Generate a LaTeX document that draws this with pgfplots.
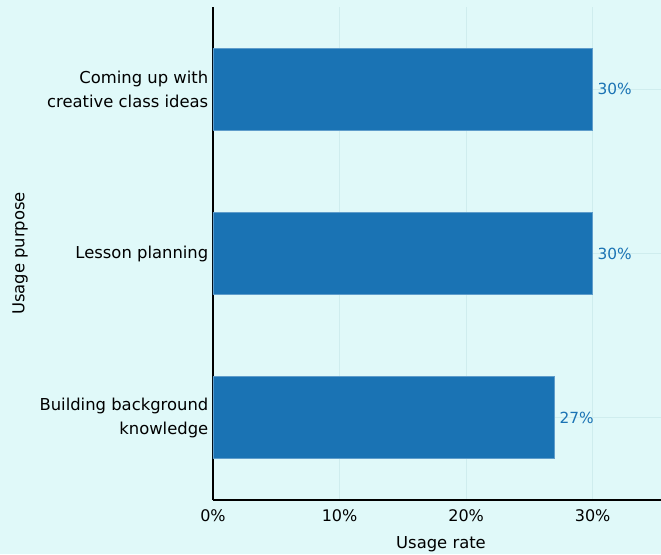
\documentclass[border=0pt]{standalone}
\usepackage{fontspec}
\setmainfont{DejaVu Sans}
\usepackage{pgfplots}
\pgfplotsset{compat=1.18}
\definecolor{bg}{HTML}{E0F9F9}
\definecolor{barblue}{HTML}{1A73B4}
\definecolor{gridc}{HTML}{CFEDEE}
\begin{document}
\begin{tikzpicture}
\path[use as bounding box, fill=bg] (-159.75pt,-40.5pt) rectangle (336pt,375pt);
\begin{axis}[
    at={(0,0)}, anchor=south west,
    scale only axis,
    width=336pt, height=369.75pt,
    xbar,
    xmin=0, xmax=35.4,
    ymin=-0.5, ymax=2.5,
    bar width=61.5pt,
    axis lines=left, axis line style={-, black, line width=1.1pt},
    xtick={0,10,20,30},
    xticklabels={0\%,10\%,20\%,30\%},
    ytick={0,1,2},
    yticklabels={{Building background\\knowledge},{Lesson planning},{Coming up with\\creative class ideas}},
    yticklabel style={align=right, font=\fontsize{12.3}{18}\selectfont},
    xticklabel style={font=\fontsize{12}{14}\selectfont, yshift=-4pt},
    major tick length=0pt,
    xmajorgrids, ymajorgrids,
    grid style={gridc, line width=0.6pt},
    xlabel={Usage rate}, ylabel={Usage purpose},
    label style={font=\fontsize{12.3}{14}\selectfont},
    xlabel style={at={(axis description cs:0.509,0)}, anchor=center, yshift=-33pt},
    ylabel style={at={(axis description cs:-0.4308,0.5)}, anchor=center},
    nodes near coords={\pgfmathprintnumber[assume math mode=true]{\pgfplotspointmeta}\%},
    nodes near coords style={text=barblue, font=\fontsize{11.5}{12}\selectfont, anchor=west, xshift=0pt},
    point meta=x,
    clip=false,
]
\addplot[fill=barblue, draw=barblue!70!white, line width=0.6pt] coordinates {(27,0) (30,1) (30,2)};
\end{axis}
\end{tikzpicture}
\end{document}
